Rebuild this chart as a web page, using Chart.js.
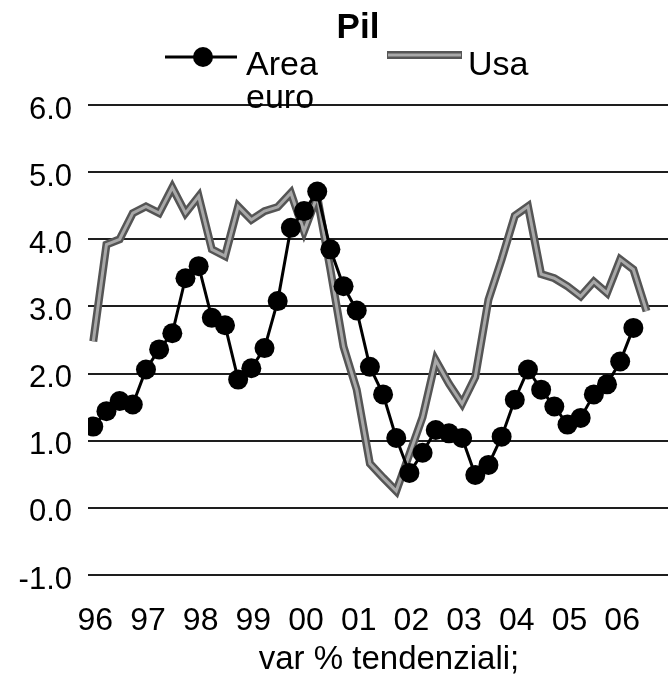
<!DOCTYPE html>
<html>
<head>
<meta charset="utf-8">
<title>Pil</title>
<script src="https://cdn.jsdelivr.net/npm/chart.js@4.4.0/dist/chart.umd.min.js"></script>
<style>
html, body { margin: 0; padding: 0; background: #fff; overflow: hidden; }
#wrap { width: 700px; height: 680px; }
</style>
</head>
<body>
<div id="wrap"><canvas id="myChart"></canvas></div>
<script>
// trimestri 1996 T1 - 2006 T3
const quarters = [
  '96T1','96T2','96T3','96T4','97T1','97T2','97T3','97T4','98T1','98T2','98T3','98T4',
  '99T1','99T2','99T3','99T4','00T1','00T2','00T3','00T4','01T1','01T2','01T3','01T4',
  '02T1','02T2','02T3','02T4','03T1','03T2','03T3','03T4','04T1','04T2','04T3','04T4',
  '05T1','05T2','05T3','05T4','06T1','06T2','06T3'
];
const yearLabels = ['96','97','98','99','00','01','02','03','04','05','06'];
const yTicks = [-1, 0, 1, 2, 3, 4, 5, 6];

// var % tendenziali
const areaEuro = [
  1.21, 1.44, 1.59, 1.54, 2.06, 2.36, 2.60, 3.42, 3.60, 2.83, 2.72, 1.91,
  2.08, 2.38, 3.08, 4.17, 4.42, 4.71, 3.85, 3.30, 2.94, 2.10, 1.69, 1.04,
  0.52, 0.82, 1.16, 1.11, 1.04, 0.49, 0.64, 1.06, 1.61, 2.06, 1.76, 1.51,
  1.24, 1.34, 1.69, 1.84, 2.18, 2.68
];
const usa = [
  2.48, 3.92, 4.00, 4.39, 4.49, 4.39, 4.77, 4.39, 4.64, 3.85, 3.75, 4.49,
  4.29, 4.42, 4.48, 4.69, 4.12, 4.64, 3.55, 2.40, 1.76, 0.66, 0.45, 0.25,
  0.80, 1.35, 2.20, 1.85, 1.55, 1.95, 3.10, 3.70, 4.35, 4.49, 3.48, 3.42,
  3.30, 3.15, 3.37, 3.20, 3.70, 3.55, 2.93
];

const toPoints = vals => vals.map((v, i) => ({ x: i, y: v, q: quarters[i] }));

Chart.defaults.font.family = '"Liberation Sans", Arial, sans-serif';
Chart.defaults.color = '#000';

// titolo + legenda disegnati a mano (etichetta su due righe)
const header = {
  id: 'header',
  afterDraw(chart) {
    const c = chart.ctx;
    const ds = chart.data.datasets;
    c.save();
    c.fillStyle = '#000';
    c.textBaseline = 'alphabetic';
    c.font = 'bold 35px "Liberation Sans", Arial, sans-serif';
    c.textAlign = 'center';
    c.fillText('Pil', 358, 38);

    c.strokeStyle = '#000';
    c.lineWidth = 3;
    c.beginPath(); c.moveTo(165, 57); c.lineTo(237, 57); c.stroke();
    c.beginPath(); c.arc(203, 57, 10, 0, Math.PI * 2); c.fill();

    c.font = '34px "Liberation Sans", Arial, sans-serif';
    c.textAlign = 'left';
    const words = ds[0].label.split(' ');
    c.fillText(words[0], 246, 75);
    c.fillText(words[1], 246, 108);

    c.strokeStyle = ds[1].borderColor;
    c.lineWidth = 8;
    c.beginPath(); c.moveTo(387, 55); c.lineTo(462, 55); c.stroke();
    c.strokeStyle = ds[2].borderColor;
    c.lineWidth = 3;
    c.beginPath(); c.moveTo(388, 55); c.lineTo(461, 55); c.stroke();
    c.fillText(ds[1].label, 468, 75);
    c.restore();
  }
};

let ctx = document.getElementById('myChart').getContext('2d');
let chart = new Chart(ctx, {
  type: 'line',
  data: {
    datasets: [
      {
        label: 'Area euro',
        data: toPoints(areaEuro),
        borderColor: '#000',
        backgroundColor: '#000',
        borderWidth: 3,
        pointRadius: 10,
        pointBorderWidth: 0,
        pointHoverRadius: 10,
        tension: 0,
        order: 0
      },
      {
        label: 'Usa',
        data: toPoints(usa),
        borderColor: '#555555',
        borderWidth: 8,
        pointRadius: 0,
        tension: 0,
        order: 2
      },
      {
        label: 'Usa',
        data: toPoints(usa),
        borderColor: '#a8a8a8',
        borderWidth: 3,
        pointRadius: 0,
        tension: 0,
        order: 1
      }
    ]
  },
  options: {
    animation: false,
    responsive: true,
    maintainAspectRatio: false,
    layout: { padding: { top: 105, left: 0, right: 0, bottom: 0 } },
    plugins: {
      legend: { display: false },
      title: { display: false },
      tooltip: { enabled: false }
    },
    scales: {
      x: {
        type: 'linear',
        min: -0.4,
        max: 45.3,
        grid: { display: false, drawTicks: false },
        border: { display: false },
        afterBuildTicks: axis => {
          axis.ticks = yearLabels.map((_, k) => ({ value: k * 4 + 0.15 }));
        },
        ticks: {
          autoSkip: false,
          maxRotation: 0,
          padding: 27,
          font: { size: 32 },
          callback: (v, i) => yearLabels[i]
        },
        title: {
          display: true,
          text: 'var % tendenziali;',
          font: { size: 33 },
          padding: { top: 0, bottom: 0 }
        },
        afterFit: axis => { axis.height = 105; }
      },
      y: {
        min: -1,
        max: 6,
        afterBuildTicks: axis => {
          axis.ticks = yTicks.map(v => ({ value: v }));
        },
        grid: { color: '#1e1e1e', lineWidth: 2, drawTicks: false },
        border: { display: false },
        ticks: {
          padding: 16,
          labelOffset: 5,
          font: { size: 31 },
          callback: v => v.toFixed(1)
        },
        afterFit: axis => { axis.width = 88; }
      }
    }
  },
  plugins: [header]
});
</script>
</body>
</html>
